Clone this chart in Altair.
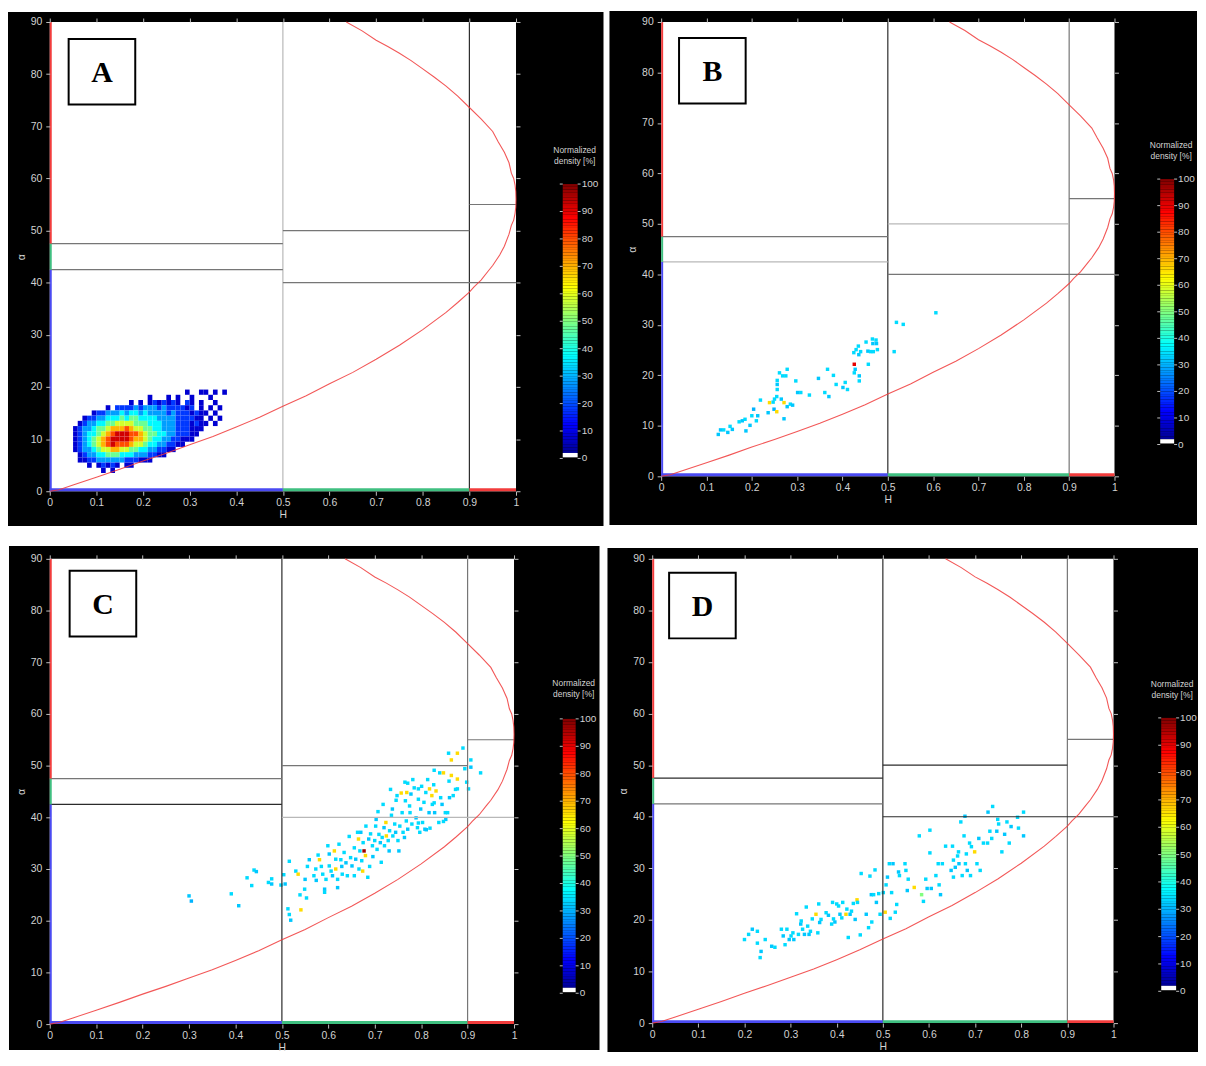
import altair as alt
import pandas as pd

FONT = "Liberation Sans"
LABEL_COLOR = "#d2d2d2"
TICK_COLOR = "#c0c0c0"

X_TICKS = [0, 0.1, 0.2, 0.3, 0.4, 0.5, 0.6, 0.7, 0.8, 0.9, 1]
Y_TICKS = [0, 10, 20, 30, 40, 50, 60, 70, 80, 90]
CB_TICKS = [0, 10, 20, 30, 40, 50, 60, 70, 80, 90, 100]

JET_STOPS = [0, 12.5, 37.5, 62.5, 87.5, 100]
JET_COLORS = ["#00007f", "#0000ff", "#00ffff", "#ffff00", "#ff0000", "#7f0000"]

# boundary curve of the feasible H-alpha region (in drawing order)
CURVE_H = [0.0, 0.02, 0.05, 0.10, 0.15, 0.20, 0.25, 0.30, 0.35, 0.40, 0.45, 0.50, 0.55, 0.60,
           0.65, 0.70, 0.75, 0.80, 0.85, 0.875, 0.90, 0.91, 0.925, 0.94, 0.95, 0.965, 0.975,
           0.985, 0.99, 0.995, 0.998, 0.9995, 1.0, 0.9995, 0.998, 0.995, 0.99, 0.985, 0.975,
           0.962, 0.95, 0.925, 0.90, 0.875, 0.85, 0.825, 0.80, 0.775, 0.75, 0.725, 0.70,
           0.67, 0.636]
CURVE_A = [0.0, 0.3, 1.2, 2.7, 4.2, 5.8, 7.3, 8.9, 10.5, 12.3, 14.2, 16.3, 18.3, 20.6,
           22.8, 25.3, 28.0, 31.0, 34.3, 36.2, 38.2, 39.2, 40.5, 42.2, 43.3, 45.3, 47.0,
           49.3, 51.0, 52.0, 53.3, 54.5, 56.0, 57.5, 58.7, 60.0, 61.0, 63.0, 65.0,
           67.0, 69.0, 71.4, 73.6, 75.8, 77.7, 79.4, 81.0, 82.6, 84.0, 85.3, 86.5,
           88.3, 90.0]

# zone boundaries
ZONE_H1 = [0.5, 0.9, 0.0, 0.0, 0.5, 0.5, 0.9]
ZONE_H2 = [0.5, 0.9, 0.5, 0.5, 0.9, 1.0, 1.0]
ZONE_A1 = [0, 0, 47.5, 42.5, 50, 40, 55]
ZONE_A2 = [90, 90, 47.5, 42.5, 50, 40, 55]
ZONE_SHADE = {
    "A": ["l", "k", "g", "g", "g", "g", "g"],
    "B": ["k", "g", "g", "l", "l", "g", "g"],
    "C": ["k", "g", "g", "k", "g", "l", "g"],
    "D": ["k", "g", "k", "g", "k", "k", "g"],
}

# coloured segments on the H axis (alpha = 0) and on the alpha axis (H = 0)
EDGE_H1 = [0.0, 0.5, 0.9]
EDGE_H2 = [0.5, 0.9, 1.0]
EDGE_V1 = [0.0, 42.5, 47.5]
EDGE_V2 = [42.5, 47.5, 90.0]
EDGE_CLASS = ["blue", "green", "red"]

STROKE_DOMAIN = ["k", "g", "l", "blue", "green", "red"]
STROKE_RANGE = ["#2b2b2b", "#767676", "#b8b8b8", "#4a4af2", "#3fbf80", "#f23c3c"]

# Panel A: 2-D density (rows alpha 19 .. 4, columns H 0.05 .. 0.38 in 0.01 bins); digit = density level
A_ALPHA_TOP = 19
A_H0 = 0.05
A_ROWS = [
    "........................1..11.1.1.",
    "................1...1.1..1...1....",
    "............1.1.1212121.21.1..1...",
    ".......1.22223233323222212.1.1.1..",
    "....1223334344343333232221211.1...",
    "..12233444545544443333222211.1.1..",
    ".1233445566665554443332221211.1...",
    "1233455677787665544333222111......",
    "123445678999887655443322211.......",
    "12345678999987765443322111........",
    "123456789888766544332211..........",
    "1233456677665544332211............",
    ".1233445554443332211..............",
    ".1122333333222111.................",
    "...1.12121.11.....................",
    "......1.1.........................",
]
A_LEVEL = {"1": 8, "2": 18, "3": 28, "4": 37, "5": 48, "6": 58, "7": 70, "8": 80, "9": 92}

# Panels B, C, D: (H, alpha, density %)
B_PTS = [
    (0.126, 8.3, 32), (0.131, 9.2, 32), (0.138, 9.2, 34), (0.147, 8.7, 32), (0.152, 9.9, 34),
    (0.157, 9.3, 32), (0.172, 10.8, 34), (0.179, 11.0, 32), (0.185, 11.3, 34), (0.187, 9.0, 32),
    (0.196, 10.1, 32), (0.200, 12.0, 34), (0.204, 13.3, 30), (0.210, 11.0, 34), (0.213, 12.0, 32),
    (0.219, 15.1, 34), (0.236, 12.6, 32), (0.239, 14.6, 66), (0.247, 14.7, 34), (0.249, 13.3, 30),
    (0.250, 15.3, 34), (0.255, 12.8, 66), (0.255, 15.8, 34), (0.256, 17.2, 34), (0.256, 18.2, 32),
    (0.256, 19.0, 34), (0.261, 20.5, 34), (0.265, 15.3, 32), (0.268, 19.9, 34), (0.271, 14.6, 66),
    (0.271, 11.4, 32), (0.275, 19.9, 34), (0.278, 21.2, 34), (0.278, 13.8, 32), (0.285, 14.3, 34),
    (0.290, 14.1, 32), (0.297, 18.9, 34), (0.301, 16.6, 32), (0.308, 16.6, 34), (0.327, 16.1, 34),
    (0.347, 19.4, 32), (0.361, 16.6, 34), (0.367, 21.2, 34), (0.370, 15.8, 32), (0.380, 20.0, 34),
    (0.386, 18.2, 34), (0.401, 17.6, 32), (0.406, 18.6, 34), (0.411, 17.2, 34), (0.425, 24.5, 34),
    (0.426, 22.2, 90), (0.426, 20.5, 34), (0.428, 21.2, 32), (0.430, 25.1, 34), (0.435, 25.8, 34),
    (0.436, 24.1, 32), (0.437, 18.9, 34), (0.437, 19.9, 32), (0.440, 24.7, 34), (0.452, 26.6, 34),
    (0.456, 24.8, 32), (0.457, 22.2, 34), (0.462, 24.7, 34), (0.466, 27.2, 34), (0.467, 26.3, 32),
    (0.468, 24.7, 34), (0.474, 27.0, 34), (0.475, 26.3, 32), (0.477, 25.1, 34), (0.514, 24.7, 34),
    (0.519, 30.5, 34), (0.534, 30.1, 34), (0.606, 32.4, 34),
]

C_PTS = [
    (0.300, 24.8, 32), (0.305, 23.8, 30), (0.391, 25.2, 34), (0.407, 22.9, 32), (0.425, 28.3, 34),
    (0.435, 26.8, 34), (0.440, 29.8, 34), (0.445, 29.5, 32), (0.471, 27.4, 34), (0.478, 28.1, 34),
    (0.478, 27.1, 32), (0.498, 26.9, 34), (0.504, 28.9, 34), (0.507, 27.1, 32), (0.513, 22.3, 34),
    (0.516, 21.2, 34), (0.519, 20.1, 32), (0.516, 31.5, 34), (0.530, 29.6, 34), (0.535, 29.0, 66),
    (0.541, 22.1, 66), (0.539, 25.0, 34), (0.549, 26.1, 34), (0.550, 28.0, 32), (0.553, 24.4, 34),
    (0.555, 30.5, 34), (0.559, 31.8, 32), (0.569, 28.7, 34), (0.573, 30.0, 34), (0.574, 27.8, 32),
    (0.578, 32.7, 34), (0.581, 31.8, 66), (0.585, 30.5, 34), (0.588, 29.0, 34), (0.592, 26.1, 32),
    (0.592, 25.5, 34), (0.595, 28.0, 34), (0.599, 34.5, 34), (0.602, 32.9, 32), (0.602, 30.6, 34),
    (0.606, 29.6, 34), (0.609, 28.7, 32), (0.613, 33.5, 66), (0.616, 31.9, 34), (0.616, 30.0, 66),
    (0.620, 28.0, 34), (0.620, 26.4, 32), (0.623, 34.8, 34), (0.627, 31.8, 34), (0.629, 30.5, 32),
    (0.630, 29.0, 34), (0.634, 33.2, 34), (0.638, 31.2, 32), (0.641, 28.7, 34), (0.645, 36.3, 34),
    (0.648, 32.2, 34), (0.651, 30.6, 32), (0.656, 34.1, 34), (0.656, 28.7, 34), (0.659, 31.9, 32),
    (0.663, 37.1, 34), (0.665, 35.8, 66), (0.666, 30.0, 34), (0.668, 33.5, 34), (0.670, 37.1, 32),
    (0.672, 31.6, 34), (0.674, 29.6, 66), (0.675, 35.1, 34), (0.677, 33.5, 97), (0.680, 32.6, 66),
    (0.681, 38.3, 34), (0.685, 28.4, 34), (0.687, 35.8, 32), (0.689, 30.5, 34), (0.691, 36.8, 34),
    (0.695, 34.5, 34), (0.696, 32.4, 32), (0.700, 35.5, 34), (0.702, 38.3, 34), (0.703, 39.6, 32),
    (0.705, 33.8, 34), (0.707, 41.1, 34), (0.709, 36.7, 34), (0.712, 35.1, 32), (0.714, 31.3, 34),
    (0.716, 36.1, 34), (0.718, 42.5, 34), (0.720, 38.0, 32), (0.721, 34.5, 34), (0.724, 39.0, 66),
    (0.725, 36.4, 66), (0.729, 35.5, 34), (0.731, 33.5, 32), (0.732, 37.4, 34), (0.734, 45.4, 34),
    (0.736, 40.4, 34), (0.738, 41.6, 32), (0.739, 36.4, 34), (0.743, 38.7, 34), (0.745, 37.1, 32),
    (0.746, 43.3, 34), (0.748, 44.2, 34), (0.750, 35.5, 34), (0.752, 33.5, 32), (0.754, 38.3, 34),
    (0.757, 44.7, 66), (0.759, 40.9, 34), (0.761, 37.1, 34), (0.764, 36.1, 32), (0.766, 43.2, 34),
    (0.768, 39.3, 34), (0.771, 46.6, 34), (0.771, 37.7, 32), (0.775, 42.2, 34), (0.776, 40.9, 34),
    (0.778, 44.5, 32), (0.780, 38.7, 34), (0.782, 47.3, 34), (0.785, 45.7, 34), (0.789, 39.9, 32),
    (0.792, 38.0, 34), (0.794, 43.5, 34), (0.797, 37.1, 34), (0.799, 41.6, 32), (0.801, 46.0, 34),
    (0.803, 39.0, 34), (0.806, 42.9, 34), (0.808, 37.7, 32), (0.810, 44.8, 34), (0.814, 47.3, 34),
    (0.817, 40.9, 32), (0.818, 45.5, 66), (0.823, 44.2, 66), (0.824, 42.5, 34), (0.827, 46.3, 34),
    (0.829, 40.9, 32), (0.832, 45.1, 66), (0.838, 39.0, 34), (0.842, 43.8, 34), (0.845, 42.5, 32),
    (0.852, 40.9, 34), (0.860, 47.0, 34), (0.874, 45.4, 34), (0.902, 45.5, 34), (0.890, 53.4, 34),
    (0.859, 52.4, 34), (0.878, 52.4, 66), (0.865, 51.1, 66), (0.907, 51.1, 34), (0.894, 49.4, 34),
    (0.907, 49.7, 32), (0.928, 48.6, 34), (0.828, 49.1, 34), (0.840, 48.6, 34), (0.848, 48.6, 66),
    (0.865, 48.1, 66), (0.878, 47.4, 66), (0.898, 46.8, 34), (0.878, 45.5, 34), (0.861, 43.8, 32),
    (0.869, 44.2, 34), (0.765, 46.8, 34), (0.769, 44.8, 66), (0.794, 45.5, 34), (0.828, 42.8, 34),
    (0.857, 40.9, 34), (0.853, 39.6, 32), (0.848, 39.2, 34), (0.819, 37.9, 34), (0.811, 37.6, 32),
    (0.794, 38.9, 34),
]

D_PTS = [
    (0.200, 16.2, 34), (0.209, 17.2, 34), (0.217, 18.2, 32), (0.228, 17.8, 34), (0.228, 15.5, 34),
    (0.236, 13.9, 32), (0.234, 12.7, 34), (0.245, 16.2, 34), (0.259, 14.9, 32), (0.266, 14.7, 34),
    (0.280, 18.2, 34), (0.284, 16.9, 32), (0.288, 15.2, 34), (0.292, 18.2, 34), (0.297, 16.2, 32),
    (0.301, 16.9, 34), (0.305, 17.5, 34), (0.307, 16.2, 32), (0.313, 21.2, 34), (0.317, 17.2, 34),
    (0.322, 19.2, 32), (0.323, 19.8, 34), (0.326, 18.2, 34), (0.330, 17.2, 32), (0.334, 22.5, 34),
    (0.337, 18.8, 34), (0.340, 17.2, 32), (0.343, 17.8, 34), (0.347, 20.2, 34), (0.361, 23.1, 34),
    (0.355, 21.1, 66), (0.366, 20.1, 34), (0.363, 19.5, 32), (0.359, 17.5, 34), (0.377, 21.4, 34),
    (0.382, 20.9, 32), (0.389, 19.2, 34), (0.391, 23.4, 34), (0.393, 20.2, 34), (0.396, 19.6, 32),
    (0.400, 23.1, 34), (0.404, 22.7, 34), (0.407, 21.1, 32), (0.411, 20.4, 34), (0.413, 23.4, 34),
    (0.420, 21.1, 66), (0.422, 22.1, 34), (0.425, 16.6, 34), (0.429, 21.1, 32), (0.432, 21.7, 34),
    (0.436, 23.2, 34), (0.440, 20.1, 32), (0.444, 23.9, 66), (0.445, 23.4, 34), (0.451, 17.1, 34),
    (0.453, 29.0, 34), (0.464, 21.1, 32), (0.469, 18.5, 34), (0.472, 28.5, 34), (0.475, 24.9, 32),
    (0.476, 19.6, 34), (0.480, 24.9, 34), (0.483, 29.7, 34), (0.486, 23.4, 32), (0.491, 25.1, 34),
    (0.494, 21.1, 34), (0.501, 25.3, 34), (0.505, 21.5, 66), (0.507, 26.8, 34), (0.510, 28.3, 32),
    (0.514, 30.9, 34), (0.516, 20.3, 34), (0.519, 25.3, 34), (0.522, 30.9, 32), (0.527, 21.5, 34),
    (0.530, 23.0, 34), (0.534, 29.3, 32), (0.536, 28.6, 34), (0.548, 30.9, 34), (0.550, 29.6, 34),
    (0.553, 25.7, 32), (0.555, 27.9, 34), (0.568, 26.3, 66), (0.579, 36.3, 34), (0.584, 24.9, 50),
    (0.588, 23.6, 34), (0.593, 27.9, 34), (0.596, 26.1, 32), (0.602, 37.4, 34), (0.602, 33.0, 34),
    (0.605, 26.1, 32), (0.615, 28.6, 34), (0.620, 30.9, 34), (0.622, 26.8, 34), (0.625, 24.9, 32),
    (0.629, 30.9, 34), (0.636, 34.3, 34), (0.648, 29.6, 32), (0.651, 34.3, 34), (0.653, 31.6, 34),
    (0.653, 28.3, 34), (0.657, 30.2, 32), (0.662, 32.4, 34), (0.664, 33.2, 34), (0.665, 30.9, 32),
    (0.669, 39.0, 34), (0.672, 28.6, 34), (0.676, 36.3, 34), (0.678, 40.1, 32), (0.679, 30.9, 34),
    (0.681, 32.8, 34), (0.683, 29.6, 32), (0.688, 34.9, 34), (0.690, 28.6, 34), (0.692, 34.2, 34),
    (0.699, 33.2, 66), (0.704, 30.9, 34), (0.708, 35.8, 32), (0.711, 29.6, 34), (0.718, 34.9, 34),
    (0.727, 34.9, 34), (0.728, 40.9, 32), (0.732, 37.2, 34), (0.736, 35.8, 34), (0.738, 42.0, 34),
    (0.747, 37.2, 32), (0.749, 39.5, 34), (0.751, 38.6, 34), (0.758, 33.2, 34), (0.764, 36.6, 32),
    (0.769, 39.0, 34), (0.774, 34.9, 34), (0.778, 38.1, 32), (0.792, 39.9, 34), (0.794, 37.8, 34),
    (0.805, 40.9, 34), (0.805, 36.3, 32),
]

# colour bar levels
CB_LEVELS = list(range(2, 100))
CB_WHITE = (0.4, 2.0)

# layout of each panel (pixels): plot size, black frame, label box, colour bar
LAYOUT = {
    "A": dict(w=469, h=472, frame=(-42, 557, -10, 507), box=(19, 17), gap=47, cbw=15,
              cbdom=(-11.95, 159.06), cbt=(12, 124.5)),
    "B": dict(w=456, h=457, frame=(-52, 539, -11, 506), box=(18, 16), gap=46, cbw=14,
              cbdom=(-11.98, 159.18), cbt=(11, 119.5)),
    "C": dict(w=467, h=468, frame=(-41, 553, -13, 494), box=(20, 12), gap=49, cbw=13,
              cbdom=(-11.24, 158.33), cbt=(11, 120.5)),
    "D": dict(w=464, h=467, frame=(-45, 549, -11, 496), box=(17, 14), gap=48, cbw=15,
              cbdom=(-11.64, 158.18), cbt=(11, 121.5)),
}

JET = alt.Scale(domain=JET_STOPS, range=JET_COLORS, interpolate="rgb")
STROKES = alt.Scale(domain=STROKE_DOMAIN, range=STROKE_RANGE)
ONE = pd.DataFrame({"k": [0]})


def heat_frame():
    rows = []
    for r, line in enumerate(A_ROWS):
        a = A_ALPHA_TOP - r
        for c, ch in enumerate(line):
            if ch in A_LEVEL:
                h = A_H0 + 0.01 * c
                rows.append({"h1": h, "h2": h + 0.01, "a1": a - 0.5, "a2": a + 0.5, "d": A_LEVEL[ch]})
    return pd.DataFrame(rows)


def axis_common(**kw):
    base = dict(domain=False, grid=False, tickColor=TICK_COLOR, tickSize=4, tickWidth=1,
                labelColor=LABEL_COLOR, labelFont=FONT, labelFontSize=10.5, labelFlush=False,
                labelOverlap=False, titleColor=LABEL_COLOR, titleFont=FONT, titleFontSize=10.5,
                titleFontWeight="normal", zindex=1)
    base.update(kw)
    return alt.Axis(**base)


def panel(key):
    L = LAYOUT[key]
    w, h = L["w"], L["h"]
    fx1, fx2, fy1, fy2 = L["frame"]
    bx, by = L["box"]
    xs = alt.Scale(domain=[0, 1], nice=False, zero=False)
    ys = alt.Scale(domain=[0, 90], nice=False, zero=False)

    frame = alt.Chart(ONE).mark_rect(color="black").encode(
        x=alt.value(fx1), x2=alt.value(fx2), y=alt.value(fy1), y2=alt.value(fy2))
    plot_bg = alt.Chart(ONE).mark_rect(color="white").encode(
        x=alt.value(0), x2=alt.value(w), y=alt.value(0), y2=alt.value(h))

    if key == "A":
        data = alt.Chart(heat_frame()).mark_rect().encode(
            x=alt.X("h1:Q", scale=xs, axis=None), x2="h2:Q",
            y=alt.Y("a1:Q", scale=ys, axis=None), y2="a2:Q",
            fill=alt.Fill("d:Q", scale=JET, legend=None))
    else:
        pts = {"B": B_PTS, "C": C_PTS, "D": D_PTS}[key]
        df = pd.DataFrame(pts, columns=["h", "a", "d"])
        data = alt.Chart(df).mark_square(size=12, opacity=1).encode(
            x=alt.X("h:Q", scale=xs, axis=None),
            y=alt.Y("a:Q", scale=ys, axis=None),
            fill=alt.Fill("d:Q", scale=JET, legend=None))

    zdf = pd.DataFrame({"h1": ZONE_H1, "h2": ZONE_H2, "a1": ZONE_A1, "a2": ZONE_A2,
                        "s": ZONE_SHADE[key]})
    zones = alt.Chart(zdf).mark_rule(strokeWidth=1.2).encode(
        x=alt.X("h1:Q", scale=xs,
                axis=axis_common(orient="bottom", values=X_TICKS, format="~g", title="H",
                                 labelPadding=2, titlePadding=2)),
        x2="h2:Q",
        y=alt.Y("a1:Q", scale=ys,
                axis=axis_common(orient="left", values=Y_TICKS, format="d", title="α",
                                 labelPadding=4, titlePadding=4)),
        y2="a2:Q",
        stroke=alt.Stroke("s:N", scale=STROKES, legend=None))

    ehdf = pd.DataFrame({"h1": EDGE_H1, "h2": EDGE_H2, "s": EDGE_CLASS})
    edges_h = alt.Chart(ehdf).mark_rule(strokeWidth=3, yOffset=-1.5).encode(
        x=alt.X("h1:Q", scale=xs, axis=None), x2="h2:Q",
        y=alt.value(h),
        stroke=alt.Stroke("s:N", scale=STROKES, legend=None))
    evdf = pd.DataFrame({"a1": EDGE_V1, "a2": EDGE_V2, "s": EDGE_CLASS})
    edges_v = alt.Chart(evdf).mark_rule(strokeWidth=2, xOffset=1).encode(
        y=alt.Y("a1:Q", scale=ys, axis=None), y2="a2:Q",
        x=alt.value(0),
        stroke=alt.Stroke("s:N", scale=STROKES, legend=None))

    cdf = pd.DataFrame({"h": CURVE_H, "a": CURVE_A, "i": list(range(len(CURVE_H)))})
    curve = alt.Chart(cdf).mark_line(color="#f03a3a", strokeWidth=1.1, opacity=0.85).encode(
        x=alt.X("h:Q", scale=xs,
                axis=axis_common(orient="top", values=X_TICKS, labels=False, title=None)),
        y=alt.Y("a:Q", scale=ys,
                axis=axis_common(orient="right", values=Y_TICKS, labels=False, title=None)),
        order=alt.Order("i:Q"))

    box = alt.Chart(ONE).mark_rect(fill="white", stroke="black", strokeWidth=2).encode(
        x=alt.value(bx), x2=alt.value(bx + 67), y=alt.value(by), y2=alt.value(by + 66))
    letter = alt.Chart(ONE).mark_text(font="Liberation Serif", fontWeight="bold", fontSize=30,
                                      color="black", align="center", baseline="middle").encode(
        x=alt.value(bx + 33.5), y=alt.value(by + 34), text=alt.value(key))

    main = alt.layer(frame, plot_bg, data, zones, edges_h, edges_v, curve, box, letter)

    # colour bar (its own y scale, placed to the right of the plot)
    gap, cw = L["gap"], L["cbw"]
    lo, hi = L["cbdom"]
    tx, ty = L["cbt"]
    x0 = w + gap
    cs = alt.Scale(domain=[lo, hi], nice=False, zero=False)
    cbdf = pd.DataFrame({"v0": CB_LEVELS, "v1": [v + 1 for v in CB_LEVELS],
                         "m": [v + 0.5 for v in CB_LEVELS]})
    bars = alt.Chart(cbdf).mark_rect().encode(
        x=alt.value(x0), x2=alt.value(x0 + cw),
        y=alt.Y("v0:Q", scale=cs, axis=None),
        y2="v1:Q",
        fill=alt.Fill("m:Q", scale=JET, legend=None))
    wdf = pd.DataFrame({"v0": [CB_WHITE[0]], "v1": [CB_WHITE[1]]})
    white = alt.Chart(wdf).mark_rect(color="white").encode(
        x=alt.value(x0), x2=alt.value(x0 + cw),
        y=alt.Y("v0:Q", scale=cs, axis=None),
        y2="v1:Q")
    tdf = pd.DataFrame({"v": CB_TICKS, "t": [str(v) for v in CB_TICKS]})
    ticks_r = alt.Chart(tdf).mark_rule(color=TICK_COLOR, strokeWidth=1).encode(
        x=alt.value(x0 + cw), x2=alt.value(x0 + cw + 3),
        y=alt.Y("v:Q", scale=cs, axis=None))
    ticks_l = alt.Chart(tdf).mark_rule(color=TICK_COLOR, strokeWidth=1).encode(
        x=alt.value(x0 - 3), x2=alt.value(x0),
        y=alt.Y("v:Q", scale=cs, axis=None))
    labels = alt.Chart(tdf).mark_text(font=FONT, fontSize=10, color=LABEL_COLOR, align="left",
                                      baseline="middle").encode(
        x=alt.value(x0 + cw + 4),
        y=alt.Y("v:Q", scale=cs, axis=None),
        text="t:N")
    title = alt.Chart(ONE).mark_text(text="Normalized\ndensity [%]", lineBreak="\n",
                                     lineHeight=11, font=FONT, fontSize=8.5, color=LABEL_COLOR,
                                     align="center", baseline="top").encode(
        x=alt.value(x0 + tx), y=alt.value(ty))
    cbar = alt.layer(bars, white, ticks_r, ticks_l, labels, title)

    return alt.layer(main, cbar).resolve_scale(y="independent").properties(width=w, height=h)


top = alt.hconcat(panel("A"), panel("B"), spacing=6)
bottom = alt.hconcat(panel("C"), panel("D"), spacing=8)
chart = alt.vconcat(top, bottom, spacing=20).properties(
    padding=0, background="white").configure_view(strokeWidth=0)

chart.save("out.html", embed_options={"renderer": "svg", "actions": False})
